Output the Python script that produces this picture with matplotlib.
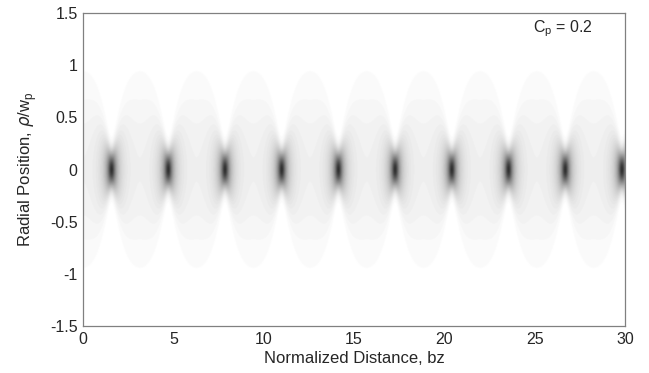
import numpy as np
import matplotlib
matplotlib.use("Agg")
from matplotlib import pyplot as plt
from matplotlib import colors

# beam parameters
Cp = 0.2                 # ratio of min to max beam width
bz_lim = [0, 30]
rho_lim = [-1.5, 1.5]
xticks = [0, 5, 10, 15, 20, 25, 30]
yticks = [-1.5, -1, -0.5, 0, 0.5, 1, 1.5]
ytick_labels = ['-1.5', '-1', '-0.5', '0', '0.5', '1', '1.5']

plt.rcParams['font.family'] = ['Liberation Sans', 'DejaVu Sans']

# breathing gaussian beam, width oscillates between 1 and Cp
bz = np.linspace(bz_lim[0], bz_lim[1], 1200)
rho = np.linspace(rho_lim[0], rho_lim[1], 600)
Z, R = np.meshgrid(bz, rho)
w2 = np.cos(Z)**2 + Cp**2 * np.sin(Z)**2
I = np.exp(-2 * R**2 / w2) / w2

fig = plt.figure(figsize=(6.49, 3.73), dpi=100)
ax = fig.add_axes([0.128, 0.126, 0.835, 0.839])

cmap = plt.get_cmap('gray_r', 64)
ax.imshow(I, extent=[bz_lim[0], bz_lim[1], rho_lim[0], rho_lim[1]], origin='lower',
          aspect='auto', cmap=cmap, norm=colors.PowerNorm(0.79, vmin=0, vmax=1.3 * I.max()),
          interpolation='bilinear')

ax.set_xlim(bz_lim)
ax.set_ylim(rho_lim)
ax.set_xticks(xticks)
ax.set_yticks(yticks)
ax.set_yticklabels(ytick_labels)
ax.tick_params(length=0, labelsize=11.5, colors='#262626', pad=4)
for s in ax.spines.values():
    s.set_color('#808080')
    s.set_linewidth(0.9)

ax.set_xlabel('Normalized Distance, bz', fontsize=12, color='#262626', labelpad=3)
ax.set_ylabel(r'Radial Position, $\rho$/w$_\mathregular{p}$', fontsize=12, color='#262626', labelpad=8)
ax.text(24.9, 1.32, r'C$_\mathregular{p}$ = 0.2', fontsize=11.5, color='#262626')

fig.savefig('out.png', dpi=100)
